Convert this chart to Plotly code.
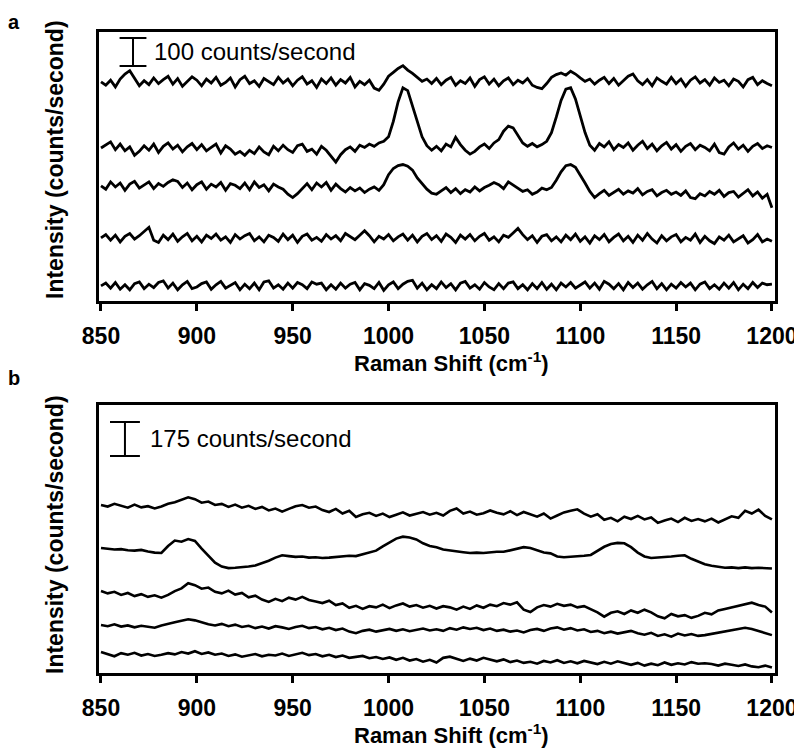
import plotly.graph_objects as go

# Raman shift grids (cm^-1): panel a sampled every 2.5, panel b every 3.5
SHIFT_A = [850 + 2.5 * i for i in range(141)]
SHIFT_B = [850 + 3.5 * i for i in range(101)]
TICKS = [850, 900, 950, 1000, 1050, 1100, 1150, 1200]

# panel a: five spectra (counts/second, relative to each trace's baseline), top to bottom
a1 = [0, -12, 6, -18, 10, 28, 40, 12, -14, 4,
      -10, 14, -6, 8, 20, -8, 12, -16, 2, 18,
      6, -14, 10, -4, 16, -12, -2, 14, -18, 8,
      20, -6, 4, -16, 12, 2, -10, 16, -4, 10,
      -14, 6, 18, -8, 4, -20, 10, -6, 14, -12,
      8, -4, 16, -18, 2, -10, 6, -22, -30, -8,
      20, 34, 48, 58, 42, 30, 16, 2, 10, -6,
      12, -10, 6, 16, -12, 4, -6, 14, -16, 8,
      18, -8, 10, -14, 4, 14, -10, 6, -4, 12,
      -12, -20, -24, -6, 16, 26, 32, 24, 38, 28,
      14, 2, 10, -8, 6, 16, -6, 12, -12, 4,
      20, 28, 4, -10, 8, -14, 14, 2, -8, 16,
      -6, 10, -16, 6, 18, -4, 8, -12, 14, -2,
      6, -14, 10, 2, -18, 8, 16, -10, 4, -6,
      -14]
a2 = [0, 10, 22, -6, 14, -10, 4, -26, -12, 8,
      -8, 14, -16, 6, 18, -4, 10, -14, 4, 16,
      -6, 12, -10, 2, 14, -18, 8, -4, -22, -12,
      -26, -8, -20, 4, -14, -24, 6, -10, 10, -6,
      -16, 8, 14, -12, -4, -22, 6, -8, -30, -50,
      -24, -6, 4, -12, 10, 2, 14, 6, 18, 24,
      40, 95, 165, 215, 205, 150, 90, 40, 8, -8,
      6, -10, 14, 4, 38, 12, -8, -22, -12, 4,
      14, -2, 18, 30, 60, 78, 72, 46, 18, 6,
      16, 4, 12, 24, 55, 110, 170, 210, 215, 175,
      115, 55, 10, -8, 16, 4, 22, -6, 12, 2,
      18, -8, 10, 24, -2, 14, -10, 8, 20, -4,
      12, -12, 6, 16, -6, 10, 2, -10, 14, -16,
      -22, 4, 18, -4, 10, -12, 6, 16, -2, 8,
      2]
a3 = [0, -12, 14, -4, 10, -16, 6, 16, -8, 4,
      14, -10, 8, -2, 12, 22, 16, -6, 10, -14,
      4, 14, -12, 6, -4, 12, -16, 8, 2, -10,
      10, -14, 14, -6, 4, -18, 6, -4, -12, -30,
      -42, -28, -10, 8, -14, 10, -4, 12, -16, 6,
      -10, -22, -6, -18, -8, -24, -12, -4, -16, 4,
      40, 62, 72, 76, 70, 56, 28, 6, -12, -26,
      -30, -18, -6, -24, -10, -28, -14, -22, -4, -18,
      -6, 2, 12, 4, -10, 14, 2, -8, -20, -14,
      -30, -22, -8, -14, -6, 20, 50, 72, 76, 66,
      40, 10, -20, -42, -28, -16, -34, -22, -12, -30,
      -18, -26, -10, -32, -20, -14, -36, -24, -16, -30,
      -22, -34, -18, -42, -46, -28, -36, -20, -30, -16,
      -38, -24, -20, -40, -28, -14, -36, -22, -44, -30,
      -78]
a4 = [0, 12, -8, 10, -14, 6, 16, -4, 8, 22,
      38, -8, -16, 10, -6, 14, -12, 4, 16, -10,
      6, -14, 10, -2, 14, -8, 4, -16, 12, -4,
      8, 16, -10, 4, -14, 10, 2, -12, 14, -6,
      10, -16, 6, 14, -8, 2, -12, 12, -4, 8,
      -10, 16, 4, -6, 10, 26, 8, -14, 6, -4,
      12, -10, 4, 14, -8, 10, -14, 6, 16, -6,
      8, -12, 14, 2, -16, 10, -4, 12, -10, 6,
      16, -8, 4, -14, 10, 2, 18, 34, 12, -6,
      8, -16, 6, 12, -10, 4, -14, 10, -6, 14,
      -12, 4, -18, 8, -6, 12, -14, 2, 14, -10,
      6, -16, 10, -8, 16, -4, -18, 8, -10, 4,
      12, -14, 2, -8, 14, -16, 6, -10, -20, 4,
      -8, 10, -14, -4, 8, -18, -6, 12, -14, -4,
      -12]
a5 = [0, 10, -8, 12, -12, 4, -14, 8, 14, -10,
      6, -6, 12, 18, -8, 10, -14, 4, 16, -10,
      -4, 8, 14, -12, 4, 16, -8, 2, 12, -14,
      6, -10, 10, -14, 14, 18, -8, 4, -12, 10,
      -8, 12, 4, -10, 14, 6, 10, -14, 4, -12,
      10, -8, 6, 12, -14, 8, 2, -10, 12, -16,
      4, 14, -10, 6, 16, 20, -8, 10, -14, 4,
      -10, 14, -6, 8, -14, 10, 16, -8, 4, -12,
      12, -4, -14, 8, -10, 10, 14, -10, 4, -14,
      8, -10, 12, -12, 6, -14, 10, -4, 12, -8,
      4, 14, -8, 10, -12, 16, 6, -10, 8, -14,
      12, -6, 10, -12, 4, 16, -10, 8, -14, 6,
      -8, 12, -4, 10, -14, 6, 14, -10, 4, -12,
      10, -8, 12, -14, 6, -10, 12, -6, 10, 4,
      6]
offsets_a = [782, 546, 411, 225, 54]
scale_a = 100

# panel b
b1 = [0, -8, 6, -4, -14, 2, -12, -6, -18, -8,
      6, 14, 26, 40, 30, 12, 18, 0, 6, -10,
      2, -14, -4, -20, -10, -28, -18, -34, -20, -6,
      0, -14, -8, -26, -36, -20, -44, -30, -62, -48,
      -40, -56, -44, -62, -50, -38, -54, -44, -36, -50,
      -40, -54, -30, -18, -44, -34, -50, -42, -28, -40,
      -48, -32, -52, -36, -46, -60, -44, -70, -54, -38,
      -30, -22, -44, -60, -48, -76, -66, -84, -60, -72,
      -56, -74, -64, -92, -80, -70, -88, -66, -82, -72,
      -84, -70, -90, -76, -58, -66, -30, -44, -24, -56,
      -74]
b2 = [0, -4, -8, -6, -12, -14, -10, -18, -24, -26,
      10, 38, 32, 46, 36, -4, -40, -76, -96, -104,
      -102, -100, -96, -90, -80, -66, -50, -38, -42, -46,
      -44, -50, -48, -52, -50, -46, -44, -40, -42, -32,
      -26, -14, 8, 28, 48, 58, 54, 44, 24, 10,
      4, -8, -14, -18, -22, -26, -24, -26, -22, -20,
      -20, -12, -2, 4, 0, -14, -24, -28, -44, -48,
      -46, -44, -40, -36, -14, 6, 20, 26, 24, 4,
      -24, -44, -52, -50, -48, -44, -40, -38, -56, -72,
      -84, -92, -98, -102, -100, -104, -100, -104, -102, -104,
      -106]
b3 = [0, -12, -4, -20, -10, -26, -16, -30, -22, -34,
      -20, 0, 14, 40, 30, 12, 18, -4, -12, 2,
      -18, -10, -32, -24, -44, -56, -40, -52, -34, -44,
      -30, -46, -54, -62, -50, -72, -64, -86, -76, -92,
      -78, -84, -70, -88, -74, -64, -80, -72, -86, -76,
      -90, -78, -84, -96, -80, -92, -74, -86, -70, -78,
      -62, -70, -58, -96, -108, -84, -72, -80, -66, -76,
      -70, -84, -78, -92, -110, -132, -112, -104, -118, -100,
      -112, -96, -110, -130, -140, -118, -130, -124, -138, -128,
      -112, -120, -100, -92, -84, -76, -66, -60, -72, -80,
      -110]
b4 = [0, -6, 4, -8, -2, -12, -4, -10, -14, -2,
      8, 14, 22, 30, 24, 12, 4, -2, 6, -6,
      2, -10, -4, -16, -8, -18, -6, -12, -20, -10,
      -4, -16, -10, -22, -14, -26, -18, -34, -42, -30,
      -24, -34, -28, -20, -30, -22, -32, -26, -18, -28,
      -22, -30, -16, -24, -12, -20, -14, -26, -18, -30,
      -24, -34, -28, -38, -26, -20, -30, -18, -12, -24,
      -16, -28, -22, -36, -30, -42, -34, -44, -38, -30,
      -42, -50, -40, -56, -48, -60, -44, -54, -46, -56,
      -52, -46, -40, -34, -28, -22, -14, -20, -30, -38,
      -52]
b5 = [0, -10, -22, -6, -14, -4, -18, -10, -20, -14,
      -6, -12, 0, -8, 4, -10, -2, -14, -8, -20,
      -12, -24, -16, -10, -22, -14, -18, -8, -20, -12,
      -4, -16, -10, -22, -14, -26, -18, -30, -24, -20,
      -32, -26, -36, -28, -40, -30, -44, -36, -50, -40,
      -54, -30, -24, -36, -46, -34, -44, -30, -40, -48,
      -38, -52, -44, -56, -50, -60, -46, -54, -42, -56,
      -48, -58, -46, -54, -62, -50, -60, -48, -58, -66,
      -56, -70, -60, -68, -54, -66, -58, -64, -52, -60,
      -58, -62, -70, -60, -66, -72, -64, -74, -78, -70,
      -80]
offsets_b = [865, 644, 422, 247, 108]
scale_b = 175

FONT = "Arial, Liberation Sans, sans-serif"
PAGE_W, PAGE_H = 802, 751
BODY = 8  # default page margin in front of the plot div
W, H = PAGE_W - BODY, PAGE_H - BODY


def px(x, y):
    """Page pixel position -> paper coordinates."""
    return (x - BODY) / W, 1 - (y - BODY) / H


def add_panel(fig, shift, spectra, offsets, n, width):
    """Stack the spectra of one panel on axes pair n."""
    for s, off in zip(spectra, offsets):
        fig.add_trace(go.Scatter(
            x=shift, y=[v + off for v in s], mode="lines",
            line=dict(color="black", width=width),
            xaxis="x" + n, yaxis="y" + n, hoverinfo="skip"))


def add_scale_bar(fig, n, xc, half, y0, height, label, x_text):
    """Draw an I-shaped scale bar with its label, in data units."""
    ref = dict(xref="x" + n, yref="y" + n)
    line = dict(color="black", width=2)
    fig.add_shape(type="line", x0=xc, x1=xc, y0=y0, y1=y0 + height, line=line, **ref)
    for y in (y0, y0 + height):
        fig.add_shape(type="line", x0=xc - half, x1=xc + half, y0=y, y1=y, line=line, **ref)
    fig.add_annotation(x=x_text, y=y0 + height / 2, text=label, showarrow=False,
                       xanchor="left", yanchor="middle",
                       font=dict(family=FONT, size=24, color="black"), **ref)


def axis_pair(top, bottom, yrange):
    x0, _ = px(98.5, 0)
    x1, _ = px(775, 0)
    _, y0 = px(0, bottom)
    _, y1 = px(0, top)
    xa = dict(domain=[x0, x1], range=[848.7, 1201.6], automargin=False,
              showline=True, linecolor="black", linewidth=3, mirror=True,
              ticks="outside", ticklen=7, tickwidth=2.5, tickcolor="black",
              tickvals=TICKS, showgrid=False, zeroline=False, ticklabelstandoff=5,
              tickfont=dict(family=FONT, size=23, color="black", weight="bold"))
    ya = dict(domain=[y0, y1], range=yrange, showline=True, linecolor="black",
              linewidth=3, mirror=True, showticklabels=False, ticks="",
              showgrid=False, zeroline=False, automargin=False)
    return xa, ya


fig = go.Figure()
add_panel(fig, SHIFT_A, [a1, a2, a3, a4, a5], offsets_a, "", 2.8)
add_panel(fig, SHIFT_B, [b1, b2, b3, b4, b5], offsets_b, "2", 2.6)

xa, ya = axis_pair(32, 301, [0, 960])
xb, yb = axis_pair(405, 673, [0, 1380])
xa["anchor"], ya["anchor"] = "y", "x"
xb["anchor"], yb["anchor"] = "y2", "x2"

add_scale_bar(fig, "", 866.7, 7, 839, scale_a, "100 counts/second", 876.6)
add_scale_bar(fig, "2", 862.5, 7.8, 1118, scale_b, "175 counts/second", 874.5)

bold = dict(family=FONT, color="black", weight="bold")
mid = dict(xref="paper", yref="paper", showarrow=False, xanchor="center", yanchor="middle")
for letter, (x, y) in (("a", (14, 22)), ("b", (14, 378))):
    lx, ly = px(x, y)
    fig.add_annotation(x=lx, y=ly, text=letter, font=dict(size=20, **bold), **mid)
for ty, yt in ((362, 160), (734, 535)):
    tx, tyy = px(451, ty)
    fig.add_annotation(x=tx, y=tyy, text="Raman Shift (cm<sup>-1</sup>)",
                       font=dict(size=22, **bold), **mid)
    yx, yy = px(55, yt)
    fig.add_annotation(x=yx, y=yy, textangle=-90, text="Intensity (counts/second)",
                       font=dict(size=23, **bold), **mid)

fig.update_layout(
    width=W, height=H, margin=dict(l=0, r=0, t=0, b=0, autoexpand=False),
    plot_bgcolor="white", paper_bgcolor="white", showlegend=False,
    xaxis=xa, yaxis=ya, xaxis2=xb, yaxis2=yb,
)

fig.write_html("out.html")
